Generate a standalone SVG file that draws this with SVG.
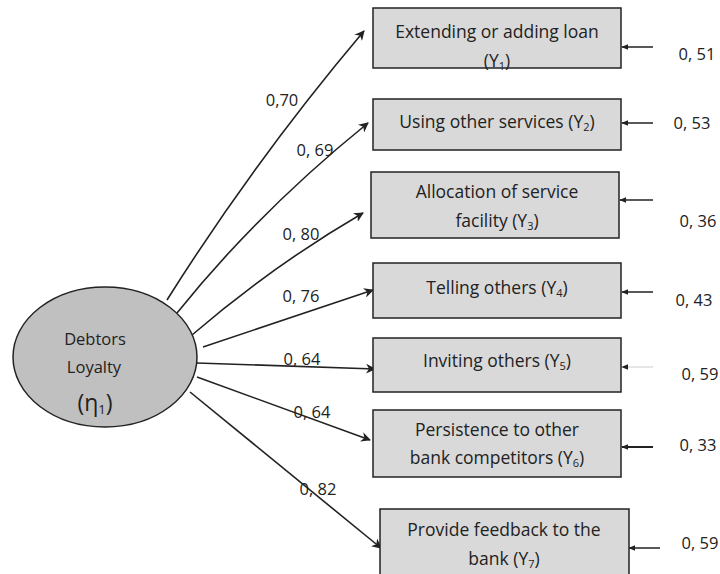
<svg xmlns="http://www.w3.org/2000/svg" width="720" height="574" viewBox="0 0 720 574">
<defs>
<marker id="ah" viewBox="0 0 10 10" refX="9" refY="5" markerWidth="10" markerHeight="10" markerUnits="userSpaceOnUse" orient="auto">
<path d="M0,0 L10,5 L0,10 L3,5 Z" fill="#222"/>
</marker>
<marker id="ahs" viewBox="0 0 10 10" refX="9" refY="5" markerWidth="7" markerHeight="7" markerUnits="userSpaceOnUse" orient="auto">
<path d="M0,1 L10,5 L0,9 Z" fill="#222"/>
</marker>
</defs>
<style>
.box{fill:#d9d9d9;stroke:#222;stroke-width:1.5}
.t{font-family:"Open Sans","Liberation Sans",sans-serif;font-size:17.5px;fill:#222;text-anchor:middle}
.lab{font-family:"Open Sans","Liberation Sans",sans-serif;font-size:16.5px;fill:#222;text-anchor:middle}
.sub{font-size:11px}
.ln{fill:none;stroke:#222;stroke-width:1.6;marker-end:url(#ah)}
.err{fill:none;stroke:#222;stroke-width:1.5;marker-end:url(#ahs)}
</style>
<g id="connectors">
<path class="ln" d="M167,300 Q255,160 364,31"/>
<path class="ln" d="M177,313 Q258,212 368,123"/>
<path class="ln" d="M192,335 Q272,266 363,213"/>
<path class="ln" d="M203,347 L373,290"/>
<path class="ln" d="M197,363 L375,369"/>
<path class="ln" d="M197,377 L370,440"/>
<path class="ln" d="M190,392 L381,548"/>
<path class="err" d="M653,47 L622,47"/>
<path class="err" d="M653,123 L622,123"/>
<path class="err" d="M653,200 L620,200"/>
<path class="err" d="M653,292 L622,292"/>
<path class="err" d="M653,367 L622,367" style="stroke:#ccc;stroke-width:1"/>
<path class="err" d="M653,447 L622,447" style="stroke-width:2"/>
<path class="err" d="M660,548 L629,548"/>
</g>
<g id="labels">
<text class="lab" x="282" y="106">0,70</text>
<text class="lab" x="315" y="156">0, 69</text>
<text class="lab" x="301" y="240">0, 80</text>
<text class="lab" x="301" y="302">0, 76</text>
<text class="lab" x="302" y="365">0, 64</text>
<text class="lab" x="312" y="418">0, 64</text>
<text class="lab" x="318" y="495">0, 82</text>
<text class="lab" x="697" y="60">0, 51</text>
<text class="lab" x="692" y="129">0, 53</text>
<text class="lab" x="698" y="227">0, 36</text>
<text class="lab" x="694" y="306">0, 43</text>
<text class="lab" x="700" y="380">0, 59</text>
<text class="lab" x="698" y="451">0, 33</text>
<text class="lab" x="700" y="549">0, 59</text>
</g>
<g id="eta">
<ellipse cx="105" cy="357" rx="92" ry="70" fill="#c0c0c0" stroke="#222" stroke-width="1.5"/>
<text class="t" x="95" y="345" style="font-size:16.5px">Debtors</text>
<text class="t" x="94" y="373" style="font-size:16.5px">Loyalty</text>
<text class="t" x="95" y="411" style="font-size:23px">(η<tspan style="font-size:13px" dy="3">1</tspan><tspan dy="-3">)</tspan></text>
</g>
<g id="y1">
<rect class="box" x="373" y="8" width="248" height="60"/>
<text class="t" x="497" y="38">Extending or adding loan</text>
<text class="t" x="497" y="67">(Y<tspan class="sub" dy="3">1</tspan><tspan dy="-3">)</tspan></text>
</g>
<g id="y2">
<rect class="box" x="373" y="99" width="248" height="51"/>
<text class="t" x="497" y="128">Using other services (Y<tspan class="sub" dy="3">2</tspan><tspan dy="-3">)</tspan></text>
</g>
<g id="y3">
<rect class="box" x="371" y="172" width="248" height="66"/>
<text class="t" x="497" y="198">Allocation of service</text>
<text class="t" x="497" y="227">facility (Y<tspan class="sub" dy="3">3</tspan><tspan dy="-3">)</tspan></text>
</g>
<g id="y4">
<rect class="box" x="373" y="263" width="248" height="55"/>
<text class="t" x="497" y="294">Telling others (Y<tspan class="sub" dy="3">4</tspan><tspan dy="-3">)</tspan></text>
</g>
<g id="y5">
<rect class="box" x="373" y="338" width="248" height="54"/>
<text class="t" x="497" y="367">Inviting others (Y<tspan class="sub" dy="3">5</tspan><tspan dy="-3">)</tspan></text>
</g>
<g id="y6">
<rect class="box" x="373" y="410" width="248" height="67"/>
<text class="t" x="497" y="436">Persistence to other</text>
<text class="t" x="497" y="464">bank competitors (Y<tspan class="sub" dy="3">6</tspan><tspan dy="-3">)</tspan></text>
</g>
<g id="y7">
<rect class="box" x="380" y="509" width="249" height="70"/>
<text class="t" x="504" y="536">Provide feedback to the</text>
<text class="t" x="504" y="565">bank (Y<tspan class="sub" dy="3">7</tspan><tspan dy="-3">)</tspan></text>
</g>
</svg>
